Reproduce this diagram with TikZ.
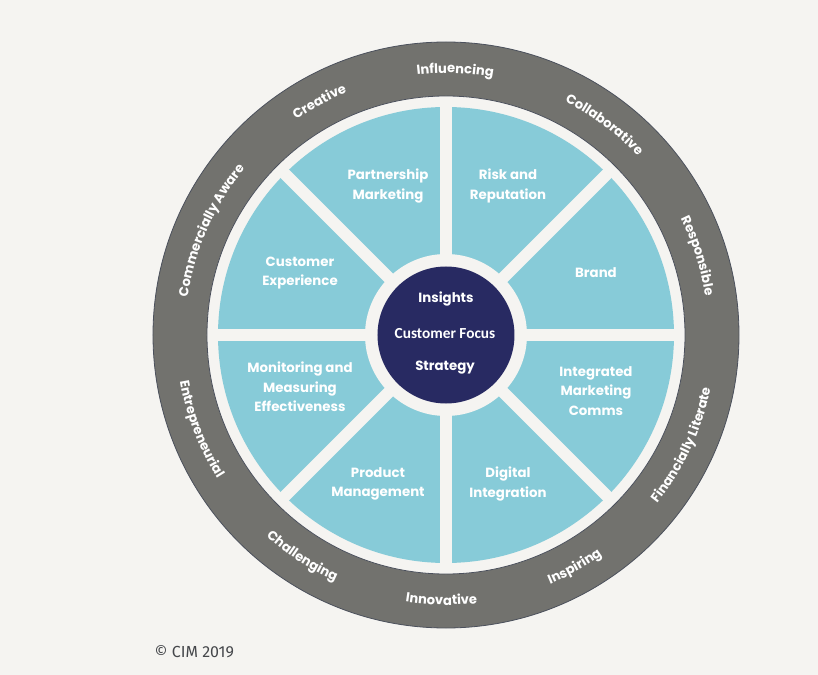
\documentclass[tikz,border=0pt]{standalone}
\usepackage{fontspec}
\setmainfont{Poppins}
\newfontfamily\focusfont{Carlito}
\newfontfamily\notefont{Fira Sans}
\usetikzlibrary{decorations.text}
\definecolor{PaperWhite}{HTML}{F5F4F1}
\definecolor{RingGray}{HTML}{72726E}
\definecolor{RingEdge}{HTML}{4B505C}
\definecolor{WedgeBlue}{HTML}{87CBD8}
\definecolor{HubNavy}{HTML}{282A62}
\definecolor{NoteGray}{HTML}{45474B}
\newcommand\ringfont{\bfseries\fontsize{9.8}{11}\selectfont}

\begin{document}
\begin{tikzpicture}[x=0.75pt, y=0.75pt,
  font=\bfseries\fontsize{10}{14.6}\selectfont,
  wedgelabel/.style={text=white, align=center},
  hublabel/.style={text=white},
  gap/.style={PaperWhite, line width=9pt},
  ringout/.style={decorate, decoration={text along path, text align=center,
      text color=white, text={|\ringfont|#1}}},
  ringin/.style={decorate, decoration={text along path, text align=center,
      text color=white, text={|\ringfont|#1}}}]
  \useasboundingbox (-446,-340) rectangle (372,335);
  \fill[PaperWhite] (-446,-340) rectangle (372,335);

  % outer ring of behaviours
  \filldraw[fill=RingGray, draw=RingEdge, line width=0.6pt] (0,0) circle[radius=293];
  \filldraw[fill=PaperWhite, draw=RingEdge, line width=0.6pt] (0,0) circle[radius=239];

  % eight wedges, cut apart by the gaps
  \fill[WedgeBlue] (0,0) circle[radius=228];
  \draw[gap] (-232,0) -- (232,0);
  \draw[gap] (0,-232) -- (0,232);
  \draw[gap] (135:232) -- (-45:232);
  \draw[gap] (45:232) -- (-135:232);
  \fill[PaperWhite] (0,0) circle[radius=81];
  \fill[HubNavy] (0,0) circle[radius=68.5];

  \node[hublabel] (insights) at (0,36) {Insights};
  \node[hublabel, font=\focusfont\bfseries\fontsize{11.5}{12}\selectfont] (focus) at (-1,1) {Customer Focus};
  \node[hublabel] (strategy) at (-1,-33) {Strategy};

  \node[wedgelabel] (partnership) at (-58,149) {Partnership\\Marketing};
  \node[wedgelabel] (risk) at (62,149) {Risk and\\Reputation};
  \node[wedgelabel] (experience) at (-146,62) {Customer\\Experience};
  \node[wedgelabel] (brand) at (150,62) {Brand};
  \node[wedgelabel] (monitoring) at (-146,-52) {Monitoring and\\Measuring\\Effectiveness};
  \node[wedgelabel] (integrated) at (150,-56) {Integrated\\Marketing\\Comms};
  \node[wedgelabel] (product) at (-68,-149) {Product\\Management};
  \node[wedgelabel] (digital) at (62,-149) {Digital\\Integration};

  % words on the ring: top half clockwise, bottom half anticlockwise
  \path[ringout=Influencing] (138:262) arc[start angle=138, end angle=38, radius=262];
  \path[ringout=Creative] (168.5:262) arc[start angle=168.5, end angle=68.5, radius=262];
  \path[ringout={Commercially Aware}] (206:261) arc[start angle=206, end angle=106, radius=261];
  \path[ringout=Collaborative] (103:262) arc[start angle=103, end angle=3, radius=262];
  \path[ringout=Responsible] (67.5:262) arc[start angle=67.5, end angle=-32.5, radius=262];
  \path[ringin={Financially Literate}] (-75:270) arc[start angle=-75, end angle=25, radius=270];
  \path[ringin=Inspiring] (-111:270) arc[start angle=-111, end angle=-11, radius=270];
  \path[ringin=Innovative] (-141:270) arc[start angle=-141, end angle=-41, radius=270];
  \path[ringin=Challenging] (-173:270) arc[start angle=-173, end angle=-73, radius=270];
  \path[ringin=Entrepreneurial] (-209:270) arc[start angle=-209, end angle=-109, radius=270];

  \node[anchor=west, text=NoteGray, font=\notefont\fontsize{12}{14}\selectfont] (copyright) at (-296,-317) {© CIM 2019};
\end{tikzpicture}
\end{document}
